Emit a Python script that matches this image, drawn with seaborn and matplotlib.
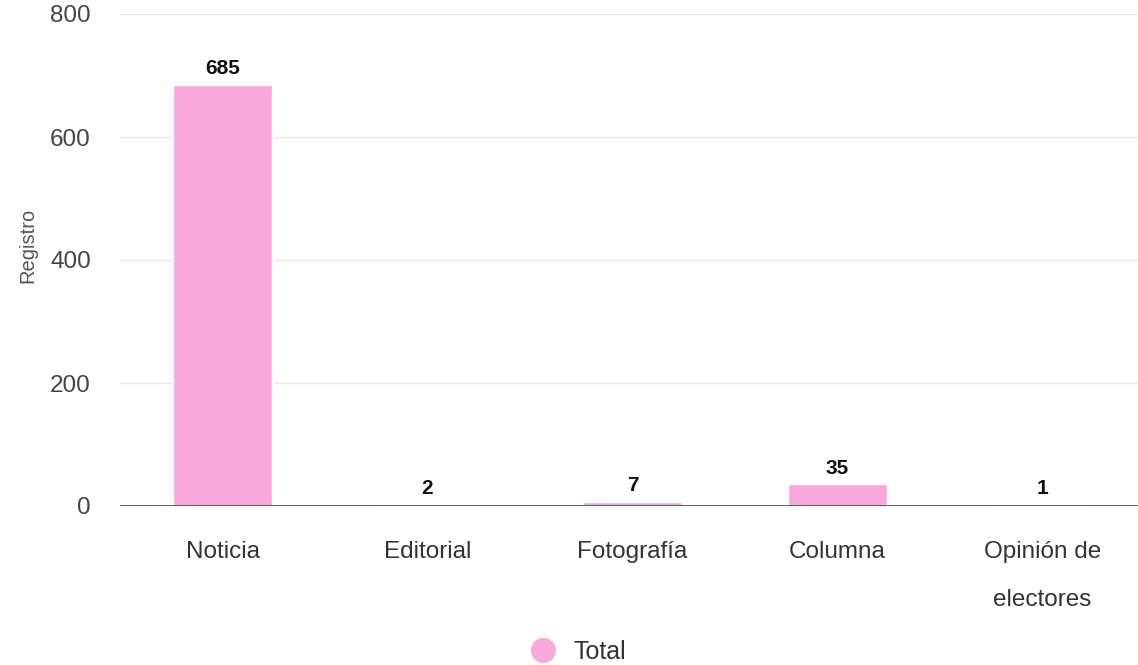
import pandas as pd
import matplotlib.pyplot as plt
from matplotlib.lines import Line2D
import seaborn as sns

# Data
categories = ['Noticia', 'Editorial', 'Fotografía', 'Columna', 'Opinión de\nelectores']
totals = [685, 2, 7, 35, 1]

df = pd.DataFrame({'Tipo': categories, 'Total': totals})

sns.set_style('white')
plt.rcParams['font.family'] = ['Liberation Sans', 'DejaVu Sans']

pink = '#f8a8da'

fig = plt.figure(figsize=(11.38, 6.65), dpi=100)
ax = fig.add_axes([120 / 1138, 159 / 665, 1025 / 1138, 492 / 665])

sns.barplot(data=df, x='Tipo', y='Total', color=pink, width=0.48,
            saturation=1, ax=ax, zorder=2)

ax.set_ylim(0, 800)
ax.set_yticks([0, 200, 400, 600, 800])
ax.grid(axis='y', color='#e8e8e8', lw=1, zorder=0)
ax.axhline(0, color='#3a3a3a', lw=1.8, zorder=3)
for s in ax.spines.values():
    s.set_visible(False)

ax.set_xticks(range(len(categories)))
ax.set_xticklabels(categories, va='top', linespacing=2.55)
ax.tick_params(axis='y', length=0, pad=21, labelsize=17.5, labelcolor='#444444')
ax.tick_params(axis='x', length=0, pad=25, labelsize=17.5, labelcolor='#333333')

ax.set_xlabel('')
ax.set_ylabel('Registro', fontsize=14.5, color='#555555')
ax.yaxis.set_label_coords(-83 / 1025, 0.53)

# Value labels
for i, v in enumerate(totals):
    ax.annotate(str(v), (i, v), xytext=(0, 5), textcoords='offset points',
                ha='center', va='bottom', fontsize=15, fontweight='bold',
                color='#111111')

# Legend
handle = Line2D([], [], marker='o', color='none', markerfacecolor=pink,
                markeredgecolor=pink, markersize=17)
fig.legend([handle], ['Total'], loc='center', bbox_to_anchor=(572 / 1138, 13 / 665),
           frameon=False, fontsize=18, handletextpad=0.2, labelcolor='#333333')

fig.savefig('out.png', dpi=100)
